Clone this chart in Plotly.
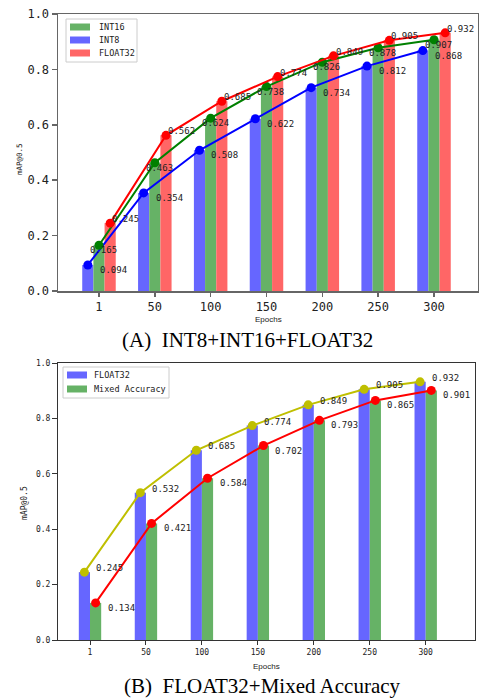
import numpy as np
import plotly.graph_objects as go

epochs = ["1", "50", "100", "150", "200", "250", "300"]
# Chart A
a_int8 = [0.094, 0.354, 0.508, 0.622, 0.734, 0.812, 0.868]
a_int16 = [0.165, 0.463, 0.624, 0.738, 0.826, 0.878, 0.907]
a_float32 = [0.245, 0.562, 0.685, 0.774, 0.849, 0.905, 0.932]
# Chart B
b_float32 = [0.245, 0.532, 0.685, 0.774, 0.849, 0.905, 0.932]
b_mixed = [0.134, 0.421, 0.584, 0.702, 0.793, 0.865, 0.901]
y_ticks = [0.0, 0.2, 0.4, 0.6, 0.8, 1.0]
legend_a = ["INT16", "INT8", "FLOAT32"]
legend_b = ["FLOAT32", "Mixed Accuracy"]

W, H = 479, 700
idx = np.arange(len(epochs))

BLUE_BAR = "#6666ff"
GREEN_BAR = "#66b266"
RED_BAR = "#ff6666"
MONO = "DejaVu Sans Mono"
SANS = "Liberation Sans"
SERIF = "Liberation Serif"

fig = go.Figure()

def add_bar(x, y, color, name, xa, ya):
    fig.add_trace(go.Bar(x=x, y=y, width=0.2, marker=dict(color=color, line=dict(width=0)),
                         name=name, xaxis=xa, yaxis=ya, showlegend=False))

def add_line(x, y, color, xa, ya, name):
    fig.add_trace(go.Scatter(x=x, y=y, mode="lines+markers", line=dict(color=color, width=2),
                             marker=dict(color=color, size=9), showlegend=False,
                             name=name, xaxis=xa, yaxis=ya))

# Chart A
add_bar(idx - 0.2, a_int8, BLUE_BAR, "INT8", "x", "y")
add_bar(idx, a_int16, GREEN_BAR, "INT16", "x", "y")
add_bar(idx + 0.2, a_float32, RED_BAR, "FLOAT32", "x", "y")
add_line(idx - 0.2, a_int8, "#0000ff", "x", "y", "INT8")
add_line(idx, a_int16, "#008000", "x", "y", "INT16")
add_line(idx + 0.2, a_float32, "#ff0000", "x", "y", "FLOAT32")

# Chart B
add_bar(idx - 0.1, b_float32, BLUE_BAR, "FLOAT32", "x2", "y2")
add_bar(idx + 0.1, b_mixed, GREEN_BAR, "Mixed Accuracy", "x2", "y2")
add_line(idx - 0.1, b_float32, "#bfbf00", "x2", "y2", "FLOAT32")
add_line(idx + 0.1, b_mixed, "#ff0000", "x2", "y2", "Mixed Accuracy")

annotations = []
shapes = []

def add_labels(xs, ys, xa, ya, xshift, yshift):
    for xv, yv in zip(xs, ys):
        annotations.append(dict(x=xv, y=yv, xref=xa, yref=ya, text=f"{yv:.3f}",
                                showarrow=False, xanchor="left", yanchor="middle",
                                xshift=xshift, yshift=yshift,
                                font=dict(family=MONO, size=9, color="#222")))

add_labels(idx - 0.2, a_int8, "x", "y", 10, -5)
add_labels(idx, a_int16, "x", "y", -11, -5)
add_labels(idx + 0.2, a_float32, "x", "y", 0, 4)
add_labels(idx - 0.1, b_float32, "x2", "y2", 10, 4)
add_labels(idx + 0.1, b_mixed, "x2", "y2", 10, -5)

def px(xp, yp):
    return xp / W, 1 - yp / H

def text_ann(xp, yp, text, size, family, angle=0, color="#222", anchor="center"):
    x, y = px(xp, yp)
    annotations.append(dict(x=x, y=y, xref="paper", yref="paper", text=text, showarrow=False,
                            xanchor=anchor, yanchor="middle", textangle=angle,
                            font=dict(family=family, size=size, color=color)))

text_ann(268, 320, "Epochs", 8, SANS)
text_ann(20, 159, "mAP@0.5", 7.5, MONO, -90)
text_ann(266, 666, "Epochs", 8, SANS)
text_ann(25, 503, "mAP@0.5", 8, MONO, -90)
text_ann(248, 340, "(A)\u00a0\u00a0INT8+INT16+FLOAT32", 21, SERIF, color="#000")
text_ann(262, 686, "(B)\u00a0\u00a0FLOAT32+Mixed Accuracy", 21, SERIF, color="#000")

def rect(x0, y0, x1, y1, fill, line=None):
    a0, b0 = px(x0, y0)
    a1, b1 = px(x1, y1)
    shapes.append(dict(type="rect", xref="paper", yref="paper", x0=a0, x1=a1, y0=b1, y1=b0,
                       fillcolor=fill, line=dict(width=1 if line else 0, color=line or fill),
                       layer="above"))

def legend_box(box, names, colors, patch_x, y0, step, text_x):
    rect(*box, "white", "#cccccc")
    for i, (nm, col) in enumerate(zip(names, colors)):
        yc = y0 + i * step
        rect(patch_x, yc - 3.5, patch_x + 20, yc + 3.5, col)
        text_ann(text_x, yc, nm, 8.5, MONO, anchor="left")

legend_box((66, 19, 137, 62), legend_a, [GREEN_BAR, BLUE_BAR, RED_BAR], 70, 27, 13, 97)
legend_box((63, 367, 169, 398), legend_b, [BLUE_BAR, GREEN_BAR], 67, 375, 14, 92)

# Axis geometry
xa_top = [58 / W, 478 / W]
ya_top = [1 - 291 / H, 1 - 14 / H]
xa_bot = [58 / W, 475 / W]
ya_bot = [1 - 640 / H, 1 - 363 / H]

def xaxis(domain, rng, anchor, color, lw, fsize):
    return dict(domain=domain, range=rng, anchor=anchor, tickmode="array",
                tickvals=list(idx), ticktext=epochs, showgrid=False, zeroline=False,
                showline=True, mirror=True, linecolor=color, linewidth=lw,
                ticks="outside", ticklen=4, tickcolor=color, tickwidth=lw, automargin=False,
                tickfont=dict(family=MONO, size=fsize, color="#222"))

def yaxis(domain, anchor, color, lw, fsize):
    return dict(domain=domain, range=[0, 1.0], anchor=anchor, tickmode="array",
                tickvals=y_ticks, ticktext=[f"{v:.1f}" for v in y_ticks],
                showgrid=False, zeroline=False, showline=True, mirror=True,
                linecolor=color, linewidth=lw, ticks="outside", ticklen=5,
                tickcolor=color, tickwidth=lw, automargin=False,
                tickfont=dict(family=MONO, size=fsize, color="#222"))

fig.update_layout(
    width=W, height=H, margin=dict(l=0, r=0, t=0, b=0, autoexpand=False),
    paper_bgcolor="white", plot_bgcolor="white",
    barmode="overlay",
    xaxis=xaxis(xa_top, [-0.734, 6.788], "y", "#666", 1.5, 12),
    yaxis=yaxis(ya_top, "x", "#666", 1.5, 12),
    xaxis2=xaxis(xa_bot, [-0.572, 6.881], "y2", "#333", 1, 8),
    yaxis2=yaxis(ya_bot, "x2", "#333", 1, 8),
    annotations=annotations,
    shapes=shapes,
    showlegend=False,
    hovermode=False,
)

fig.write_html("out.html", config={"displayModeBar": False, "staticPlot": True},
               post_script="document.body.style.margin='0';document.body.style.overflow='hidden';")
